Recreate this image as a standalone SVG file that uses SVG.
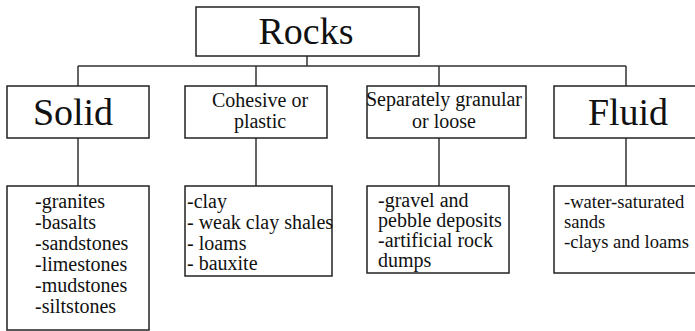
<svg xmlns="http://www.w3.org/2000/svg" width="695" height="331" viewBox="0 0 695 331" font-family="'Liberation Serif', serif">
<style>
.box{fill:#fff;stroke:#222;stroke-width:1.5}
.ln{fill:none;stroke:#333;stroke-width:1.5}
text{font-family:'Liberation Serif',serif;fill:#111}
.big{font-size:38px;text-anchor:middle}
.mid{font-size:20px;text-anchor:middle}
.lst{font-size:20px}
.lsts{font-size:18.6px}
</style>
<rect width="695" height="331" fill="#fff"/>
<g id="connectors">
<path class="ln" d="M307,56 V66 M78,66 H626 M78,66 V86 M256,66 V86 M439,66 V86 M626,66 V86"/>
<path class="ln" d="M78,138 V186 M256,138 V186 M439,138 V186 M626,138 V186"/>
</g>
<g id="rocks">
<rect class="box" x="196" y="7" width="223" height="49"/>
<text class="big" x="306" y="44">Rocks</text>
</g>
<g id="solid">
<rect class="box" x="7" y="86" width="142" height="52"/>
<text class="big" x="73" y="125">Solid</text>
</g>
<g id="cohesive">
<rect class="box" x="185" y="86" width="142" height="52"/>
<text class="mid" x="260" y="107">Cohesive or</text>
<text class="mid" x="260" y="128">plastic</text>
</g>
<g id="granular">
<rect class="box" x="367" y="86" width="159" height="52"/>
<text class="mid" x="444" y="106">Separately granular</text>
<text class="mid" x="444" y="128">or loose</text>
</g>
<g id="fluid">
<rect class="box" x="554" y="86" width="150" height="52"/>
<text class="big" x="628" y="125">Fluid</text>
</g>
<g id="solid-list">
<rect class="box" x="7" y="186" width="142" height="144"/>
<text class="lst" x="35" y="208">-granites</text>
<text class="lst" x="35" y="229">-basalts</text>
<text class="lst" x="35" y="250">-sandstones</text>
<text class="lst" x="35" y="271">-limestones</text>
<text class="lst" x="35" y="292">-mudstones</text>
<text class="lst" x="35" y="313">-siltstones</text>
</g>
<g id="cohesive-list">
<rect class="box" x="185" y="186" width="147" height="90"/>
<text class="lst" x="187" y="208">-clay</text>
<text class="lst" x="187" y="229">- weak clay shales</text>
<text class="lst" x="187" y="250">- loams</text>
<text class="lst" x="187" y="270">- bauxite</text>
</g>
<g id="granular-list">
<rect class="box" x="367" y="186" width="142" height="87"/>
<text class="lst" x="378" y="207">-gravel and</text>
<text class="lst" x="378" y="227">pebble deposits</text>
<text class="lst" x="378" y="247">-artificial rock</text>
<text class="lst" x="378" y="267">dumps</text>
</g>
<g id="fluid-list">
<rect class="box" x="554" y="186" width="150" height="87"/>
<text class="lsts" x="564" y="208">-water-saturated</text>
<text class="lsts" x="564" y="228">sands</text>
<text class="lsts" x="564" y="248">-clays and loams</text>
</g>
</svg>
